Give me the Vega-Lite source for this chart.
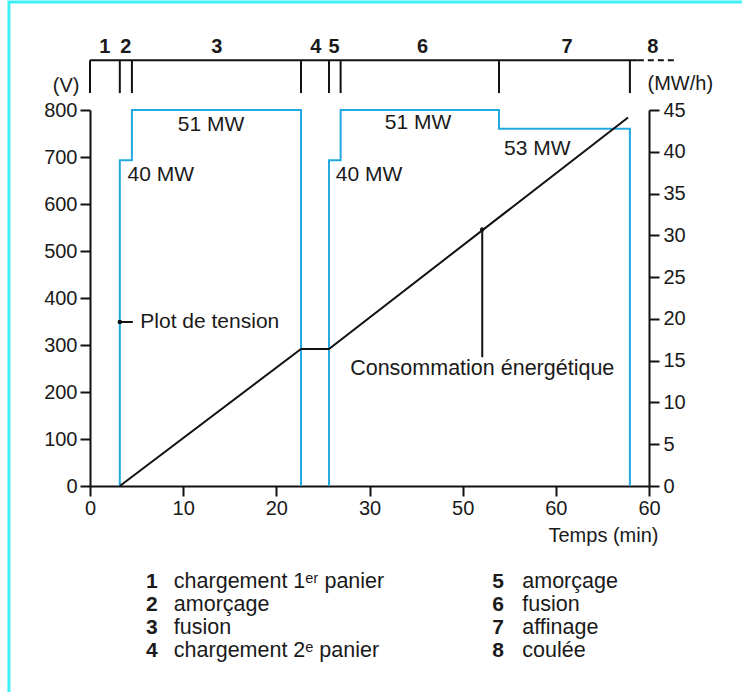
{
  "$schema": "https://vega.github.io/schema/vega-lite/v6.json",
  "autosize": {"type": "none"},
  "padding": {"left": 90, "top": 110, "right": 93, "bottom": 206},
  "width": 559,
  "height": 376,
  "background": "white",
  "config": {
    "view": {"stroke": null},
    "font": "Liberation Sans",
    "axis": {"labelFont": "Liberation Sans", "labelFontSize": 20, "labelColor": "#1a1a1a", "titleFont": "Liberation Sans", "titleFontSize": 20, "titleFontWeight": "normal", "titleColor": "#1a1a1a", "domainColor": "#111", "domainWidth": 2, "tickColor": "#111", "tickWidth": 2, "tickSize": 10, "grid": false, "labelFlush": false}
  },
  "datasets": {
    "blue": [
      {"t": 3.2, "v": 0, "seg": "a", "i": 1},
      {"t": 3.2, "v": 693, "seg": "a", "i": 2},
      {"t": 4.5, "v": 693, "seg": "a", "i": 3},
      {"t": 4.5, "v": 800, "seg": "a", "i": 4},
      {"t": 22.65, "v": 800, "seg": "a", "i": 5},
      {"t": 22.65, "v": 0, "seg": "a", "i": 6},
      {"t": 25.65, "v": 0, "seg": "b", "i": 7},
      {"t": 25.65, "v": 693, "seg": "b", "i": 8},
      {"t": 26.9, "v": 693, "seg": "b", "i": 9},
      {"t": 26.9, "v": 800, "seg": "b", "i": 10},
      {"t": 43.9, "v": 800, "seg": "b", "i": 11},
      {"t": 43.9, "v": 760, "seg": "b", "i": 12},
      {"t": 57.95, "v": 760, "seg": "b", "i": 13},
      {"t": 57.95, "v": 0, "seg": "b", "i": 14}
    ],
    "energy": [
      {"t": 3.2, "mwh": 0},
      {"t": 22.65, "mwh": 16.4},
      {"t": 25.65, "mwh": 16.4},
      {"t": 57.75, "mwh": 44.1}
    ],
    "phaseTicks": [
      {"t": 0}, {"t": 3.2}, {"t": 4.5}, {"t": 22.65}, {"t": 25.65}, {"t": 26.9}, {"t": 43.9}, {"t": 57.95}
    ],
    "phaseLine": [
      {"t0": 0, "t1": 58.8, "v": 906}
    ],
    "phaseDash": [
      {"t0": 58.8, "t1": 63.1, "v": 906}
    ],
    "phaseLabels": [
      {"t": 1.6, "n": "1"}, {"t": 3.85, "n": "2"}, {"t": 13.6, "n": "3"}, {"t": 24.25, "n": "4"},
      {"t": 26.2, "n": "5"}, {"t": 35.7, "n": "6"}, {"t": 51.2, "n": "7"}, {"t": 60.4, "n": "8"}
    ],
    "mwLabels": [
      {"t": 13.0, "v": 768, "label": "51 MW"},
      {"t": 7.6, "v": 661, "label": "40 MW"},
      {"t": 35.2, "v": 772, "label": "51 MW"},
      {"t": 48.0, "v": 718, "label": "53 MW"},
      {"t": 29.95, "v": 661, "label": "40 MW"}
    ],
    "plot": [{"t": 3.2, "t2": 4.6, "v": 349, "label": "Plot de tension", "tl": 5.4}],
    "conso": [{"t": 42.1, "v": 546, "v2": 274, "vl": 250, "label": "Consommation énergétique"}],
    "legendNum": [
      {"t": 6.65, "v": -204, "n": "1"}, {"t": 6.65, "v": -253, "n": "2"}, {"t": 6.65, "v": -302, "n": "3"}, {"t": 6.65, "v": -351, "n": "4"},
      {"t": 43.8, "v": -204, "n": "5"}, {"t": 43.8, "v": -253, "n": "6"}, {"t": 43.8, "v": -302, "n": "7"}, {"t": 43.8, "v": -351, "n": "8"}
    ],
    "legendText": [
      {"t": 9.0, "v": -204, "label": "chargement 1ᵉʳ panier"},
      {"t": 9.0, "v": -253, "label": "amorçage"},
      {"t": 9.0, "v": -302, "label": "fusion"},
      {"t": 9.0, "v": -351, "label": "chargement 2ᵉ panier"},
      {"t": 46.4, "v": -204, "label": "amorçage"},
      {"t": 46.4, "v": -253, "label": "fusion"},
      {"t": 46.4, "v": -302, "label": "affinage"},
      {"t": 46.4, "v": -351, "label": "coulée"}
    ],
    "frame": [{"t0": -8.7, "t1": 75, "v0": 1030, "v1": -520}]
  },
  "layer": [
    {
      "layer": [
        {
          "data": {"name": "frame"},
          "mark": {"type": "rect", "fill": null, "stroke": "#3ef0f5", "strokeWidth": 3, "clip": false},
          "encoding": {
            "x": {"field": "t0", "type": "quantitative", "scale": {"domain": [0, 60], "nice": false, "zero": false}, "axis": {"values": [0, 10, 20, 30, 40, 50, 60], "title": "Temps (min)", "labelExpr": "datum.value == 40 ? '50' : datum.value == 50 ? '60' : datum.label", "titleAnchor": "end", "titleAlign": "right", "titleX": 568, "titleY": 49, "titleBaseline": "middle", "labelPadding": 2}},
            "x2": {"field": "t1"},
            "y": {"field": "v0", "type": "quantitative", "scale": {"domain": [0, 800], "nice": false, "zero": false}, "axis": {"values": [0, 100, 200, 300, 400, 500, 600, 700, 800], "title": "(V)", "titleAngle": 0, "titleAlign": "right", "titleBaseline": "middle", "titleX": -11, "titleY": -25, "labelPadding": 3}},
            "y2": {"field": "v1"}
          }
        },
        {
          "data": {"name": "blue"},
          "mark": {"type": "line", "color": "#23a9e1", "strokeWidth": 2, "clip": false},
          "encoding": {
            "x": {"field": "t", "type": "quantitative"},
            "y": {"field": "v", "type": "quantitative"},
            "detail": {"field": "seg"},
            "order": {"field": "i", "type": "quantitative"}
          }
        },
        {
          "data": {"name": "phaseLine"},
          "mark": {"type": "rule", "color": "#111", "strokeWidth": 2, "clip": false},
          "encoding": {
            "x": {"field": "t0", "type": "quantitative"},
            "x2": {"field": "t1"},
            "y": {"field": "v", "type": "quantitative"}
          }
        },
        {
          "data": {"name": "phaseDash"},
          "mark": {"type": "rule", "color": "#111", "strokeWidth": 2, "strokeDash": [6, 4], "clip": false},
          "encoding": {
            "x": {"field": "t0", "type": "quantitative"},
            "x2": {"field": "t1"},
            "y": {"field": "v", "type": "quantitative"}
          }
        },
        {
          "data": {"name": "phaseTicks"},
          "mark": {"type": "rule", "color": "#111", "strokeWidth": 2, "clip": false},
          "encoding": {
            "x": {"field": "t", "type": "quantitative"},
            "y": {"datum": 836, "type": "quantitative"},
            "y2": {"datum": 906}
          }
        },
        {
          "data": {"name": "phaseLabels"},
          "mark": {"type": "text", "fontSize": 20, "fontWeight": "bold", "color": "#1a1a1a", "baseline": "middle", "align": "center", "clip": false},
          "encoding": {
            "x": {"field": "t", "type": "quantitative"},
            "y": {"datum": 934, "type": "quantitative"},
            "text": {"field": "n"}
          }
        },
        {
          "data": {"name": "mwLabels"},
          "mark": {"type": "text", "fontSize": 21, "color": "#1a1a1a", "baseline": "middle", "align": "center"},
          "encoding": {
            "x": {"field": "t", "type": "quantitative"},
            "y": {"field": "v", "type": "quantitative"},
            "text": {"field": "label"}
          }
        },
        {
          "data": {"name": "plot"},
          "mark": {"type": "rule", "color": "#111", "strokeWidth": 2},
          "encoding": {
            "x": {"field": "t", "type": "quantitative"},
            "x2": {"field": "t2"},
            "y": {"field": "v", "type": "quantitative"}
          }
        },
        {
          "data": {"name": "plot"},
          "mark": {"type": "point", "filled": true, "color": "#111", "size": 20, "opacity": 1},
          "encoding": {
            "x": {"field": "t", "type": "quantitative"},
            "y": {"field": "v", "type": "quantitative"}
          }
        },
        {
          "data": {"name": "plot"},
          "mark": {"type": "text", "fontSize": 21, "color": "#1a1a1a", "baseline": "middle", "align": "left"},
          "encoding": {
            "x": {"field": "tl", "type": "quantitative"},
            "y": {"field": "v", "type": "quantitative"},
            "text": {"field": "label"}
          }
        },
        {
          "data": {"name": "conso"},
          "mark": {"type": "rule", "color": "#111", "strokeWidth": 2},
          "encoding": {
            "x": {"field": "t", "type": "quantitative"},
            "y": {"field": "v", "type": "quantitative"},
            "y2": {"field": "v2"}
          }
        },
        {
          "data": {"name": "conso"},
          "mark": {"type": "point", "filled": true, "color": "#111", "size": 20, "opacity": 1},
          "encoding": {
            "x": {"field": "t", "type": "quantitative"},
            "y": {"field": "v", "type": "quantitative"}
          }
        },
        {
          "data": {"name": "conso"},
          "mark": {"type": "text", "fontSize": 21.5, "color": "#1a1a1a", "baseline": "middle", "align": "center"},
          "encoding": {
            "x": {"field": "t", "type": "quantitative"},
            "y": {"field": "vl", "type": "quantitative"},
            "text": {"field": "label"}
          }
        },
        {
          "data": {"name": "legendNum"},
          "mark": {"type": "text", "fontSize": 21, "fontWeight": "bold", "color": "#1a1a1a", "baseline": "middle", "align": "center", "clip": false},
          "encoding": {
            "x": {"field": "t", "type": "quantitative"},
            "y": {"field": "v", "type": "quantitative"},
            "text": {"field": "n"}
          }
        },
        {
          "data": {"name": "legendText"},
          "mark": {"type": "text", "fontSize": 21.5, "color": "#1a1a1a", "baseline": "middle", "align": "left", "clip": false},
          "encoding": {
            "x": {"field": "t", "type": "quantitative"},
            "y": {"field": "v", "type": "quantitative"},
            "text": {"field": "label"}
          }
        }
      ]
    },
    {
      "data": {"name": "energy"},
      "mark": {"type": "line", "color": "#111", "strokeWidth": 2, "clip": false},
      "encoding": {
        "x": {"field": "t", "type": "quantitative"},
        "y": {"field": "mwh", "type": "quantitative", "scale": {"domain": [0, 45], "nice": false, "zero": false}, "axis": {"orient": "right", "values": [0, 5, 10, 15, 20, 25, 30, 35, 40, 45], "title": "(MW/h)", "titleAngle": 0, "titleAlign": "left", "titleBaseline": "middle", "titleX": -2, "titleY": -27, "labelPadding": 4}}
      }
    }
  ],
  "resolve": {"scale": {"y": "independent"}}
}
